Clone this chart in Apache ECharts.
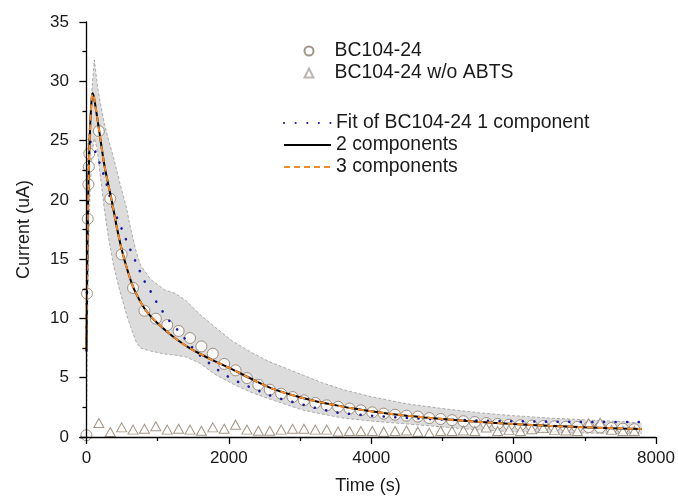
<!DOCTYPE html>
<html>
<head>
<meta charset="utf-8">
<script src="https://cdn.jsdelivr.net/npm/echarts@6/dist/echarts.min.js"></script>
<style>html,body{margin:0;padding:0;background:#fff}#c{width:678px;height:497px}</style>
</head>
<body>
<div id="c"></div>
<script>
// ---- data ----
const xTickLabels = [0, 2000, 4000, 6000, 8000];
const xMinorTicks = [1000, 3000, 5000, 7000];

const measTime = [0, 8, 19, 28, 34, 40,
  175,335,495,655,815,975,1135,1295,1455,1615,1775,1935,2095,2255,2415,2575,2735,2895,3055,3215,3375,3535,
  3695,3855,4015,4175,4335,4495,4655,4815,4975,5135,5295,5455,5615,5775,5935,6095,6255,6415,6575,6735,6895,
  7055,7215,7375,7535,7695];
const bc104 = [0.15, 12.1, 18.4, 21.3, 22.8, 23.9,
  25.8,20.1,15.4,12.57,10.65,9.98,9.44,8.94,8.35,7.64,7.02,6.16,5.62,4.97,4.41,3.99,3.65,3.37,3.09,2.87,2.67,2.55,
  2.4,2.25,2.08,1.97,1.88,1.8,1.72,1.6,1.52,1.42,1.33,1.26,1.18,1.1,1.04,0.99,0.96,0.92,0.9,0.87,0.85,
  0.83,0.8,0.76,0.7,0.66];

const noAbtsTime = [175,335,495,655,815,975,1135,1295,1455,1615,1775,1935,2095,2255,2415,2575,2735,2895,3055,3215,3375,3535,
  3695,3855,4015,4175,4335,4495,4655,4815,4975,5135,5295,5455,5615,5775,5935,6095,6255,6415,6575,6735,6895,
  7055,7215,7375,7535,7695];
const bc104NoAbts = [1.18,0.42,0.81,0.62,0.70,0.90,0.62,0.70,0.62,0.53,0.81,0.70,1.04,0.62,0.53,0.53,0.62,0.70,0.70,0.62,0.62,0.46,
  0.5,0.5,0.5,0.45,0.5,0.55,0.45,0.35,0.5,0.5,0.55,0.5,0.8,0.5,0.6,0.5,0.65,0.75,0.6,0.55,0.5,
  1.15,1.2,0.6,0.5,0.5];

const fitTime = [0,5,10,20,30,40,55,70,85,100,130,180,250,300,360,430,500,580,660,750,820,900,1000,1150,1300,1450,
  1600,1800,2000,2200,2400,2600,2800,3000,3250,3500,3750,4000,4250,4500,4750,5000,5500,6000,6500,7000,7500,7800];
const fit1 = [7.3,10.5,14,19,22.5,24.2,24.9,25.0,24.8,24.5,24.0,23.2,22.0,21.0,19.5,18.5,17.5,16.3,15.2,14.0,13.1,12.3,11.2,9.9,8.9,7.8,
  6.85,5.85,5.05,4.45,3.95,3.45,3.1,2.8,2.4,2.07,1.92,1.8,1.7,1.61,1.53,1.47,1.39,1.33,1.29,1.27,1.26,1.26];
const fit2 = [7.3,10.2,13.5,18.8,21.8,24.0,26.5,28.2,29.0,28.8,27.8,25.8,23.0,21.5,19.8,17.6,15.7,14.0,12.6,11.5,10.8,10.2,9.6,8.8,8.1,7.5,
  7.0,6.4,5.85,5.25,4.65,4.1,3.7,3.35,2.98,2.68,2.4,2.17,1.97,1.8,1.65,1.52,1.28,1.09,0.94,0.82,0.72,0.67];
const fit3 = [7.3,10.3,13.6,18.8,21.9,24.0,26.5,28.2,28.95,28.8,27.8,25.8,23.0,21.5,19.8,17.6,15.7,14.0,12.6,11.5,10.8,10.2,9.62,8.82,8.1,7.5,
  7.0,6.4,5.85,5.25,4.65,4.1,3.7,3.35,2.98,2.68,2.4,2.17,1.97,1.8,1.65,1.52,1.28,1.09,0.94,0.82,0.72,0.68];

const bandTime = [0,5,10,20,30,50,80,112,150,200,250,300,380,470,560,620,700,760,900,1100,1250,1400,1600,1800,2050,2300,2550,2800,
  3050,3300,3600,4000,4500,5000,5500,6000,6500,7000,7500,7800];
const bandHigh = [6,14,20,24,25.3,26.8,29.5,31.8,29.8,28.0,26.5,25.3,23.6,21.4,19.4,17.6,15.6,14.5,13.3,12.4,12.1,11.5,10.3,9.3,8.1,7.2,6.4,5.8,
  5.2,4.6,4.0,3.4,2.8,2.4,2.05,1.8,1.6,1.45,1.3,1.2];
const bandLow = [0,3,6,12,16,20.5,24,25.2,24.3,21.8,19.3,17.2,14.5,12.3,10.4,9.3,8.0,7.5,7.25,7.0,6.9,6.75,6.2,5.3,4.5,3.8,3.25,2.75,
  2.25,1.95,1.6,1.35,1.1,0.85,0.6,0.45,0.38,0.33,0.3,0.3];

const legendTop = ['BC104-24', 'BC104-24 w/o ABTS'];
const legendBottom = ['Fit of BC104-24 1 component', '2 components', '3 components'];

// ---- build ----
const zip = (xs, ys) => xs.map((x, i) => [x, ys[i]]);
const FONT = "'Liberation Sans', Arial, sans-serif";
const TXT = '#1a1a1a';
const mark = '#8c7a68';
const legendText = {fontSize: 19.4, color: TXT, fontFamily: FONT};

const chart = echarts.init(document.getElementById('c'), null, {renderer: 'canvas'});
chart.setOption({
  animation: false,
  backgroundColor: '#fff',
  textStyle: {fontFamily: FONT},
  grid: {left: 80, right: 22, top: 22, bottom: 60, outerBoundsMode: 'none', containLabel: false},
  legend: [
    {data: [{name: legendTop[0], icon: 'circle', itemStyle: {borderColor: '#8c7a68'}},
            {name: legendTop[1], icon: 'triangle', itemStyle: {borderColor: '#aaa49e'}}],
     orient: 'vertical', left: 303.5, top: 41.5, padding: 0, itemWidth: 9, itemHeight: 9, itemGap: 3,
     textStyle: Object.assign({padding: [0, 0, 0, 16]}, legendText)},
    {data: legendBottom, orient: 'vertical', left: 283, top: 113.5, padding: 0, itemWidth: 47, itemHeight: 9, itemGap: 3,
     itemStyle: {opacity: 0}, textStyle: legendText}
  ],
  xAxis: [
    {type: 'value', min: -90, max: 8000, name: 'Time (s)', nameLocation: 'middle', nameGap: 40, z: 10,
     nameTextStyle: {fontSize: 18, color: TXT, fontFamily: FONT},
     axisLine: {show: true, lineStyle: {color: '#000', width: 1.3}},
     axisTick: {show: true, length: 7, customValues: xTickLabels, lineStyle: {color: '#000', width: 1.3}},
     axisLabel: {customValues: xTickLabels, fontSize: 17, color: TXT, margin: 13, fontFamily: FONT,
                 formatter: v => String(v)},
     splitLine: {show: false}},
    {type: 'value', min: -90, max: 8000, position: 'bottom',
     axisLine: {show: false},
     axisTick: {show: true, length: 4, customValues: xMinorTicks, lineStyle: {color: '#000', width: 1.3}},
     axisLabel: {show: false}, splitLine: {show: false}}
  ],
  yAxis: {type: 'value', min: 0, max: 35, interval: 5, name: 'Current (uA)', nameLocation: 'middle', nameGap: 47, z: 10,
    nameTextStyle: {fontSize: 18, color: TXT, fontFamily: FONT},
    axisLine: {show: true, lineStyle: {color: '#000', width: 1.3}},
    axisTick: {show: true, length: 7, lineStyle: {color: '#000', width: 1.3}},
    minorTick: {show: true, splitNumber: 2, length: 4, lineStyle: {color: '#000', width: 1.3}},
    axisLabel: {fontSize: 17, color: TXT, margin: 11, fontFamily: FONT},
    splitLine: {show: false}},
  series: [
    {name: 'band', type: 'custom', coordinateSystem: 'cartesian2d', silent: true, z: 1,
     data: [[bandTime[0], bandLow[0]]],
     renderItem: (params, api) => {
       const up = bandTime.map((t, i) => api.coord([t, bandHigh[i]]));
       const lo = bandTime.map((t, i) => api.coord([t, bandLow[i]]));
       const edge = {stroke: '#9a9a9a', lineWidth: 0.8, lineDash: [3, 2], fill: null};
       return {type: 'group', children: [
         {type: 'polygon', shape: {points: up.concat(lo.slice().reverse())}, style: {fill: '#dcdcdc', stroke: null}},
         {type: 'polyline', shape: {points: up}, style: edge},
         {type: 'polyline', shape: {points: lo}, style: edge}
       ]};
     }},
    {name: legendTop[0], type: 'scatter', data: zip(measTime, bc104), symbol: 'circle', symbolSize: 11, z: 3,
     itemStyle: {color: '#fff', borderColor: mark, borderWidth: 1}},
    {name: legendTop[1], type: 'scatter', data: zip(noAbtsTime, bc104NoAbts), symbol: 'triangle', symbolSize: [10, 9], z: 3,
     itemStyle: {color: '#fff', borderColor: mark, borderWidth: 1}},
    {name: legendBottom[0], type: 'line', data: zip(fitTime, fit1), symbol: 'none', z: 4,
     itemStyle: {color: '#1a1aa6'},
     lineStyle: {color: '#1a1aa6', width: 2.6, type: [0.1, 11.5], cap: 'round'}},
    {name: legendBottom[1], type: 'line', data: zip(fitTime, fit2), symbol: 'none', z: 5, smooth: 0.3,
     itemStyle: {color: '#000'},
     lineStyle: {color: '#000', width: 2}},
    {name: legendBottom[2], type: 'line', data: zip(fitTime, fit3), symbol: 'none', z: 6, smooth: 0.3,
     itemStyle: {color: '#f28a2a'},
     lineStyle: {color: '#f28a2a', width: 2, type: [6, 4]}}
  ]
});
</script>
</body>
</html>
